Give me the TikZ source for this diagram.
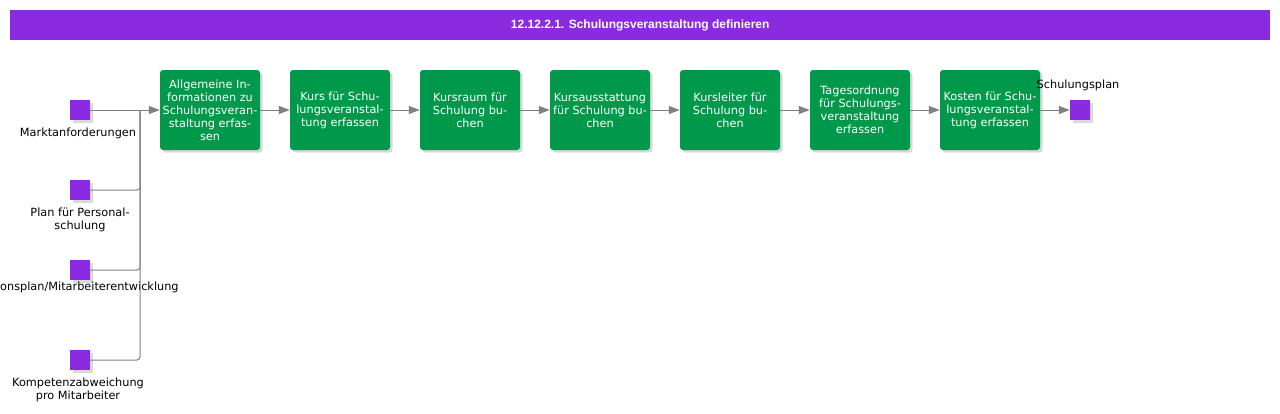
\documentclass[tikz,border=0pt]{standalone}
\usepackage{fontspec}
\setmainfont{DejaVu Sans}
\newfontfamily\titlefont{Liberation Sans}
\usetikzlibrary{shadows,arrows.meta}
\definecolor{barpurple}{RGB}{138,43,226}
\definecolor{taskgreen}{RGB}{0,152,74}
\definecolor{linegray}{RGB}{128,128,128}
\tikzset{
  task/.style={draw=none, fill=taskgreen, rounded corners=3pt, minimum width=100pt, minimum height=80pt,
    inner sep=1pt, text=white, align=center, font=\fontsize{11.3}{13}\selectfont,
    drop shadow={opacity=0.3, shadow xshift=2.5pt, shadow yshift=-2.5pt}},
  datasq/.style={draw=none, fill=barpurple, minimum size=20pt, inner sep=0pt,
    drop shadow={opacity=0.3, shadow xshift=2.5pt, shadow yshift=-2.5pt}},
  lbl/.style={align=center, font=\fontsize{11.3}{13}\selectfont, text=black, inner sep=0pt},
  conn/.style={draw=linegray, line width=1pt, -{Triangle[length=11pt,width=8pt]}},
  feed/.style={draw=linegray, line width=1pt, rounded corners=3pt},
}
\begin{document}
\begin{tikzpicture}[x=1pt,y=-1pt]
\useasboundingbox (0,0) rectangle (1280,413);
\node[fill=barpurple, minimum width=1260pt, minimum height=30pt, inner sep=0pt, anchor=north west,
  text=white, font=\titlefont\bfseries\fontsize{12}{14}\selectfont] (title) at (10,10) {12.12.2.1. Schulungsveranstaltung definieren};

\node[task] (b1) at (210,110) {Allgemeine In-\\formationen zu\\Schulungsveran-\\staltung erfas-\\sen};
\node[task] (b2) at (340,110) {Kurs für Schu-\\lungsveranstal-\\tung erfassen};
\node[task] (b3) at (470,110) {Kursraum für\\Schulung bu-\\chen};
\node[task] (b4) at (600,110) {Kursausstattung\\für Schulung bu-\\chen};
\node[task] (b5) at (730,110) {Kursleiter für\\Schulung bu-\\chen};
\node[task] (b6) at (860,110) {Tagesordnung\\für Schulungs-\\veranstaltung\\erfassen};
\node[task] (b7) at (990,110) {Kosten für Schu-\\lungsveranstal-\\tung erfassen};

\node[datasq] (m1) at (80,110) {};
\node[datasq] (m2) at (80,190) {};
\node[datasq] (m3) at (80,270) {};
\node[datasq] (m4) at (80,360) {};
\node[datasq] (out) at (1080,110) {};

\node[lbl] (l1) at (78,133) {Marktanforderungen};
\node[lbl] (l2) at (80,219.5) {Plan für Personal-\\schulung};
\node[lbl, anchor=west] (l3) at (0,287) {onsplan/Mitarbeiterentwicklung};
\node[lbl] (l4) at (78,389.5) {Kompetenzabweichung\\pro Mitarbeiter};
\node[lbl] (lout) at (1078,85) {Schulungsplan};

\coordinate (j) at (140,110);
\draw[conn] (m1.east) -- (b1.west);
\draw[feed] (m2.east) -| (j);
\draw[feed] (m3.east) -| (j);
\draw[feed] (m4.east) -| (j);
\draw[conn] (b1.east) -- (b2.west);
\draw[conn] (b2.east) -- (b3.west);
\draw[conn] (b3.east) -- (b4.west);
\draw[conn] (b4.east) -- (b5.west);
\draw[conn] (b5.east) -- (b6.west);
\draw[conn] (b6.east) -- (b7.west);
\draw[conn] (b7.east) -- (out.west);
\end{tikzpicture}
\end{document}
